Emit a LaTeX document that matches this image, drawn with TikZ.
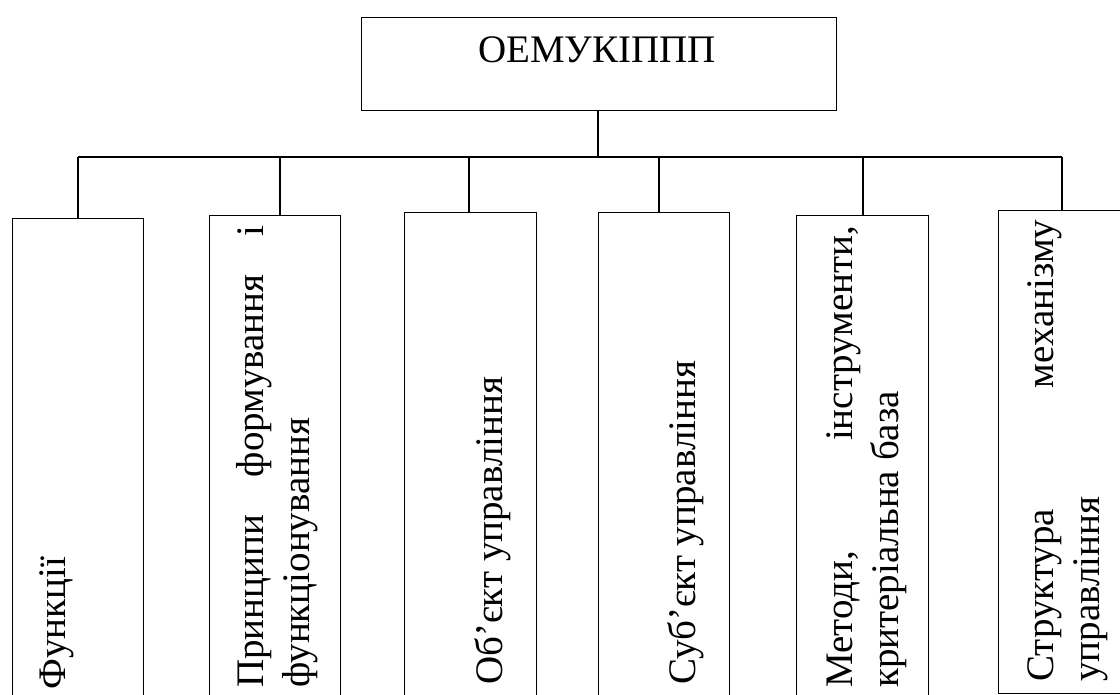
\documentclass[tikz,border=0pt]{standalone}
\usepackage{fontspec}
\setmainfont{Liberation Serif}
\newcommand\lblfont{\fontsize{39}{46}\selectfont}
\newcommand\vtext[1]{\parbox[t]{462pt}{\hyphenpenalty=10000\exhyphenpenalty=10000 #1}}
\tikzset{
  cell/.style={draw, line width=1.2pt, inner sep=0pt, anchor=north west},
  wire/.style={line width=1.6pt},
  vlabel/.style={rotate=90, anchor=base west, inner sep=0pt, font=\lblfont},
}
\begin{document}
\begin{tikzpicture}[x=1pt, y=-1pt]
  \useasboundingbox (0,0) rectangle (1120,695);
  \clip (0,0) rectangle (1120,695);

  % root box
  \node[cell, minimum width=475pt, minimum height=93pt] (root) at (360.5,17) {};
  \node[anchor=base, inner sep=0pt, font=\lblfont] (roottext) at (597,63) {ОЕМУКІППП};

  % branch boxes (they run past the lower edge)
  \node[cell, minimum width=131pt, minimum height=500pt] (b1) at (12,218) {};
  \node[cell, minimum width=131pt, minimum height=500pt] (b2) at (209,215) {};
  \node[cell, minimum width=132pt, minimum height=500pt] (b3) at (404,212) {};
  \node[cell, minimum width=131pt, minimum height=500pt] (b4) at (598,212) {};
  \node[cell, minimum width=132pt, minimum height=500pt] (b5) at (796,215) {};
  \node[cell, minimum width=150pt, minimum height=483pt] (b6) at (998,210) {};

  % rotated captions
  \node[vlabel] (t1) at (65,690)   {\vtext{Функції}};
  \node[vlabel] (t2) at (263,688)  {\vtext{Принципи формування і\linebreak функціонування}};
  \node[vlabel] (t3) at (502,685)  {\vtext{Об’єкт управління}};
  \node[vlabel] (t4) at (695,685)  {\vtext{Суб’єкт управління}};
  \node[vlabel] (t5) at (852,688)  {\vtext{Методи, інструменти,\linebreak критеріальна база}};
  \node[vlabel] (t6) at (1053,682) {\vtext{Структура механізму\linebreak управління}};

  % bus taps
  \coordinate (d1) at (78,157);
  \coordinate (d2) at (280,157);
  \coordinate (d3) at (469,157);
  \coordinate (d4) at (659,157);
  \coordinate (d5) at (863,157);
  \coordinate (d6) at (1062,157);
  \coordinate (hub) at (598,157);

  % connectors
  \draw[wire] (root.south -| hub) -- (hub);
  \draw[wire] (d1) -- (d6);
  \draw[wire] (d1) -- (d1 |- b1.north);
  \draw[wire] (d2) -- (d2 |- b2.north);
  \draw[wire] (d3) -- (d3 |- b3.north);
  \draw[wire] (d4) -- (d4 |- b4.north);
  \draw[wire] (d5) -- (d5 |- b5.north);
  \draw[wire] (d6) -- (d6 |- b6.north);
\end{tikzpicture}
\end{document}
